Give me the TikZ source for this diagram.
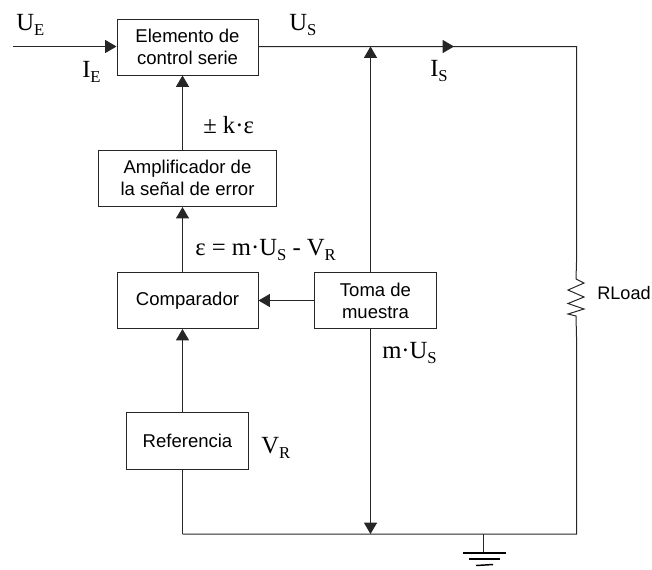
\documentclass[tikz,border=0pt]{standalone}
\usepackage{fontspec}
\setmainfont{Liberation Serif}
\newfontfamily\boxfont{Liberation Sans}
\usetikzlibrary{arrows.meta}
\tikzset{
  x=0.75pt,y=-0.75pt,
  wire/.style={line width=0.75pt,black!85},
  flow/.style={wire,-{Triangle[length=8.5pt,width=9.75pt,sep=0pt]}},
  block/.style={draw,line width=0.75pt,black!85,text=black,anchor=north west,inner sep=0pt,align=center,font=\boxfont\fontsize{13.9}{16.6}\selectfont},
  lab/.style={inner sep=0pt,anchor=base west,font=\fontsize{18.5}{20}\selectfont},
  plain/.style={inner sep=0pt,anchor=base west,font=\boxfont\fontsize{13.6}{16}\selectfont},
}
\newcommand{\subt}[1]{\raisebox{-3.8pt}{\fontsize{12.5}{14}\selectfont #1}}
\begin{document}
\begin{tikzpicture}
\useasboundingbox (0,0) rectangle (652,569);
\node[block,minimum width=105.75pt,minimum height=42pt] (ctrl) at (116.5,18.5) {Elemento de\\control serie};
\node[block,minimum width=133.5pt,minimum height=42.4pt] (amp) at (98,149.5) {Amplificador de\\la señal de error};
\node[block,minimum width=105.75pt,minimum height=42pt] (comp) at (116.5,272) {Comparador};
\node[block,minimum width=91.5pt,minimum height=42pt] (toma) at (314,272) {Toma de\\muestra};
\node[block,minimum width=91.5pt,minimum height=42.75pt] (ref) at (126,412) {Referencia};
\coordinate (in) at (13,46.5);
\coordinate (top) at (370.5,46.5);
\coordinate (topr) at (576.5,46.5);
\coordinate (isa) at (417,46.5);
\coordinate (isb) at (454,46.5);
\coordinate (r1) at (576.5,262);
\coordinate (r2) at (576,279);
\coordinate (r3) at (576,316);
\coordinate (r4) at (576.5,337);
\coordinate (botr) at (576.5,534);
\coordinate (botl) at (182.5,534);
\coordinate (botm) at (370.5,534);
\coordinate (gnd) at (483,534);
\coordinate (g0) at (483,553);
\draw[flow] (in) -- (ctrl.west |- in);
\draw[wire] (ctrl.east |- top) -- (topr) -- (r1) -- (r2);
\draw[flow] (isa) -- (isb);
\draw[wire] (r2) -- (584,283) -- (568,290) -- (584,297) -- (568,303.5) -- (584,309) -- (568,314) -- (r3) -- (r4) -- (botr) -- (botl);
\draw[wire] (botl) -- (ref.south -| botl);
\draw[flow] (ref.north -| botl) -- (comp.south -| botl);
\draw[flow] (comp.north -| botl) -- (amp.south -| botl);
\draw[flow] (amp.north -| botl) -- (ctrl.south -| botl);
\draw[flow] (toma.west) -- (comp.east);
\draw[flow] (toma.north -| top) -- (top);
\draw[flow] (toma.south -| top) -- (botm);
\draw[wire] (gnd) -- (g0);
\draw[line width=1.2pt] (463,553) -- (506,553);
\draw[line width=1.1pt] (469,559) -- (500,559);
\draw[line width=1.1pt] (476,565.5) -- (493,564.5);
\node[lab] (t1) at (16,30) {U\subt{E}};
\node[lab] (t2) at (82,77) {I\subt{E}};
\node[lab] (t3) at (289,30) {U\subt{S}};
\node[lab] (t4) at (430,76) {I\subt{S}};
\node[lab] (t5) at (203,133) {± k·ε};
\node[lab] (t6) at (195,255) {ε = m·U\subt{S} - V\subt{R}};
\node[lab] (t7) at (382,358) {m·U\subt{S}};
\node[lab] (t8) at (261,453) {V\subt{R}};
\node[plain] (t9) at (597,299) {RLoad};
\end{tikzpicture}
\end{document}
